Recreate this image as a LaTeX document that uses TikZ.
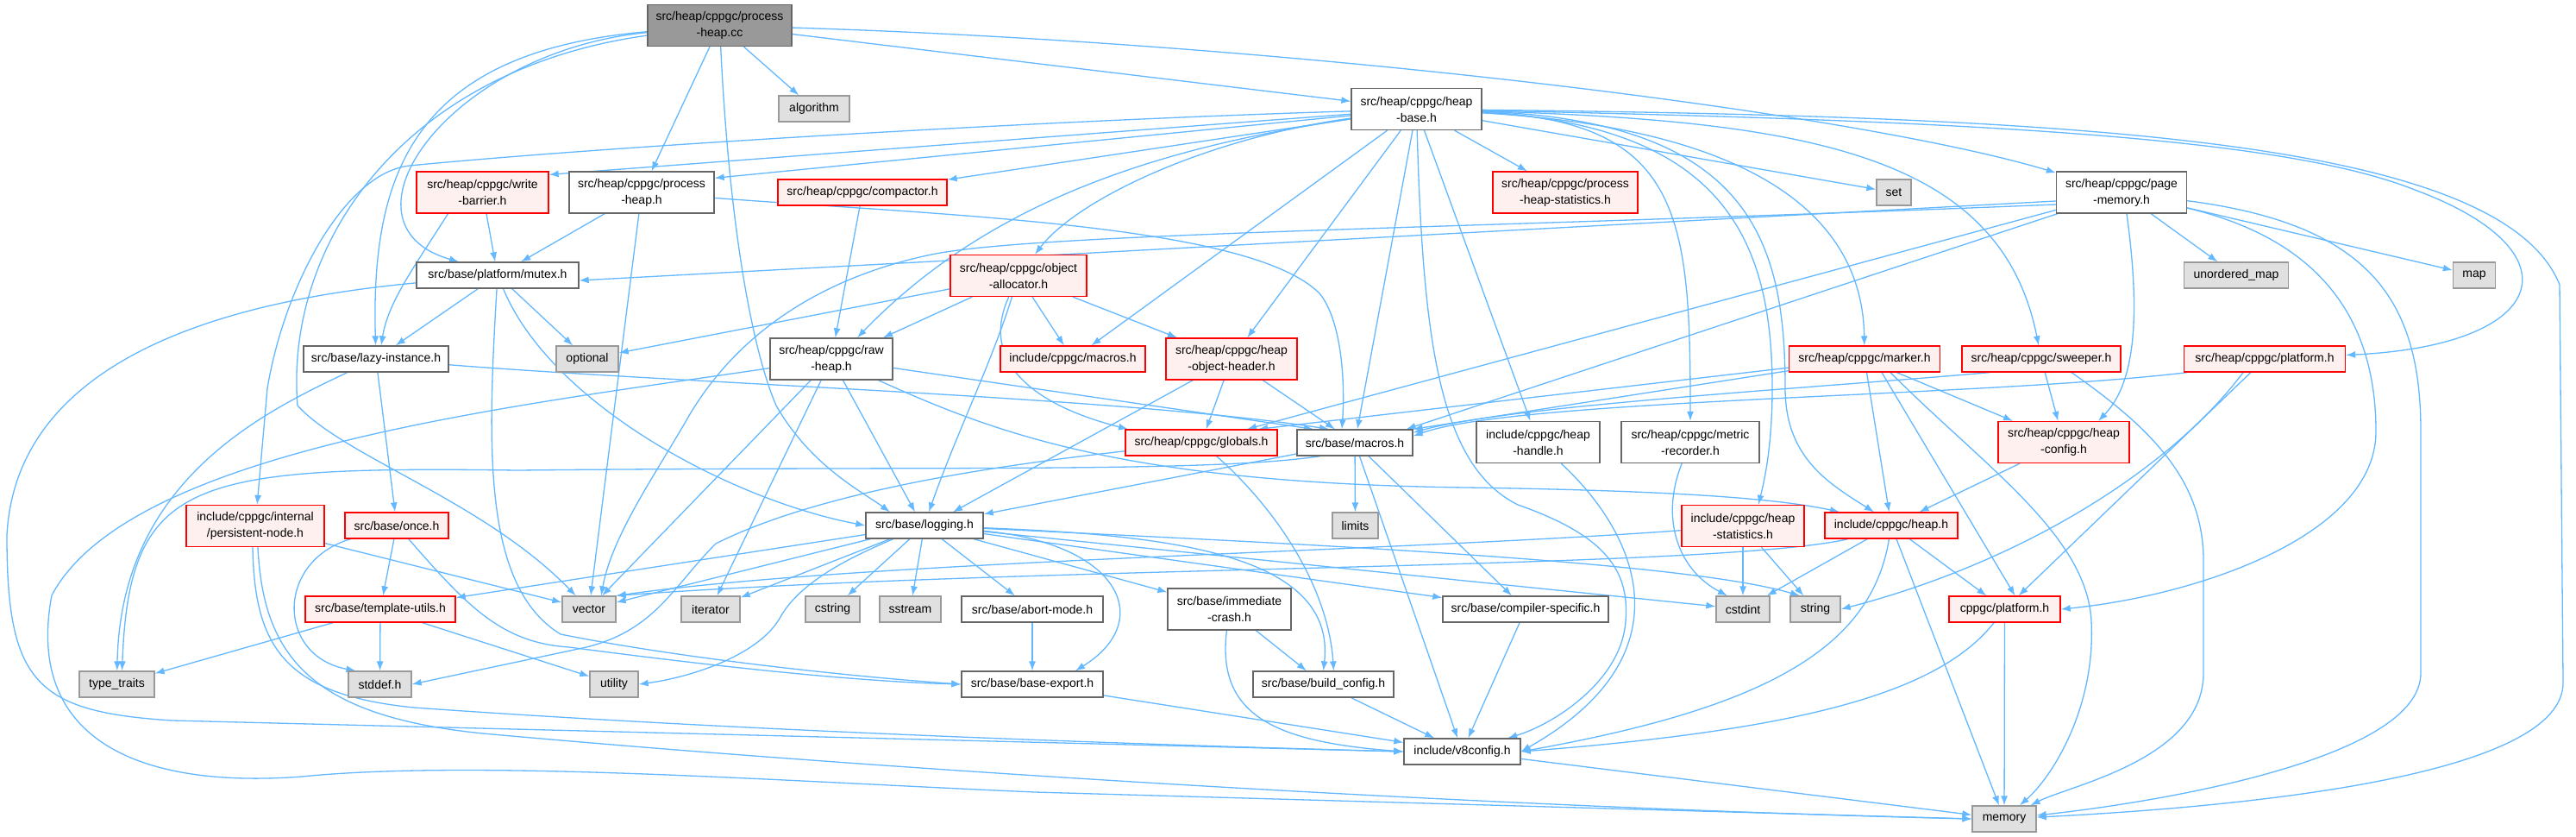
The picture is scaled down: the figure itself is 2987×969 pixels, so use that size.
\documentclass[tikz,border=0pt]{standalone}
\usepackage{fontspec}
\setmainfont{Liberation Sans}
\usetikzlibrary{arrows.meta}
\pgfdeclarelayer{edges}
\pgfsetlayers{edges,main}
\definecolor{EdgeBlue}{HTML}{63B8FF}
\definecolor{FrameGray}{HTML}{666666}
\definecolor{RootFill}{HTML}{999999}
\definecolor{TruncRed}{HTML}{FF0000}
\definecolor{TruncFill}{HTML}{FFF0F0}
\definecolor{SysFill}{HTML}{E0E0E0}
\definecolor{SysFrame}{HTML}{999999}
\begin{document}
\begin{tikzpicture}[
  x=1pt, y=-1pt,
  font=\fontsize{14}{19}\selectfont,
  filebox/.style={draw=#1, line width=1.3pt, align=center, inner sep=0pt, minimum height=30pt},
  root/.style={filebox=FrameGray, fill=RootFill, minimum width=#1},
  hdr/.style={filebox=FrameGray, fill=white, minimum width=#1},
  trunc/.style={filebox=TruncRed, fill=TruncFill, minimum width=#1},
  sys/.style={filebox=SysFrame, fill=SysFill, minimum width=#1},
  twoline/.style={minimum height=48pt},
  dep/.style={-{Latex[length=11pt,width=8pt]}, line width=1.3pt, draw=EdgeBlue}
]
\useasboundingbox (0,0) rectangle (2987,969);

\node[root=167pt, twoline] (phcc) at (834.5,29.5) {src/heap/cppgc/process\\-heap.cc};
\node[sys=82pt] (algorithm) at (944,126) {algorithm};
\node[hdr=151pt, twoline] (heapbase) at (1642.5,126.5) {src/heap/cppgc/heap\\-base.h};

\node[trunc=153pt, twoline] (writebarrier) at (559.5,223) {src/heap/cppgc/write\\-barrier.h};
\node[hdr=168pt, twoline] (processheaph) at (744,223) {src/heap/cppgc/process\\-heap.h};
\node[trunc=196pt] (compactor) at (1000,223) {src/heap/cppgc/compactor.h};
\node[trunc=168pt, twoline] (phstats) at (1815,223) {src/heap/cppgc/process\\-heap-statistics.h};
\node[sys=40pt] (set) at (2196,223) {set};
\node[hdr=151pt, twoline] (pagememory) at (2460,223) {src/heap/cppgc/page\\-memory.h};

\node[hdr=188pt] (mutex) at (577,319) {src/base/platform/mutex.h};
\node[trunc=158pt, twoline] (objalloc) at (1181,319.5) {src/heap/cppgc/object\\-allocator.h};
\node[sys=121pt] (unorderedmap) at (2593,319) {unordered\_map};
\node[sys=49pt] (map) at (2869,319) {map};

\node[hdr=168pt] (lazyinstance) at (436,416) {src/base/lazy-instance.h};
\node[sys=72pt] (optional) at (681,416) {optional};
\node[hdr=142pt, twoline] (rawheap) at (964,416) {src/heap/cppgc/raw\\-heap.h};
\node[trunc=168pt] (cppgcmacros) at (1244,416) {include/cppgc/macros.h};
\node[trunc=152pt, twoline] (hoh) at (1428,416) {src/heap/cppgc/heap\\-object-header.h};
\node[trunc=175pt] (marker) at (2162,416) {src/heap/cppgc/marker.h};
\node[trunc=184pt] (sweeper) at (2367,416) {src/heap/cppgc/sweeper.h};
\node[trunc=187pt] (srcplatform) at (2626,416) {src/heap/cppgc/platform.h};

\node[trunc=176pt] (globals) at (1393,513) {src/heap/cppgc/globals.h};
\node[hdr=134pt] (basemacros) at (1571,513) {src/base/macros.h};
\node[hdr=143pt, twoline] (heaphandle) at (1783.5,512.5) {include/cppgc/heap\\-handle.h};
\node[hdr=160pt, twoline] (metric) at (1960,512.5) {src/heap/cppgc/metric\\-recorder.h};
\node[trunc=152pt, twoline] (heapconfig) at (2393,512.5) {src/heap/cppgc/heap\\-config.h};

\node[trunc=160pt, twoline] (persistent) at (296,609.5) {include/cppgc/internal\\/persistent-node.h};
\node[trunc=120pt] (once) at (460,609) {src/base/once.h};
\node[hdr=136pt] (logging) at (1072,609) {src/base/logging.h};
\node[sys=53pt] (limits) at (1571.5,609) {limits};
\node[trunc=142pt, twoline] (heapstats) at (2021,609.5) {include/cppgc/heap\\-statistics.h};
\node[trunc=154pt] (cppgcheap) at (2193,609) {include/cppgc/heap.h};

\node[trunc=174pt] (templateutils) at (441,706) {src/base/template-utils.h};
\node[sys=62pt] (vector) at (683,706) {vector};
\node[sys=68pt] (iterator) at (824,706) {iterator};
\node[sys=63pt] (cstring) at (965.5,706) {cstring};
\node[sys=71pt] (sstream) at (1055.5,706) {sstream};
\node[hdr=164pt] (abortmode) at (1197,706) {src/base/abort-mode.h};
\node[hdr=143pt, twoline] (immcrash) at (1425.5,706) {src/base/immediate\\-crash.h};
\node[hdr=192pt] (compspec) at (1769,706) {src/base/compiler-specific.h};
\node[sys=62pt] (cstdint) at (2021,706) {cstdint};
\node[sys=58pt] (string) at (2105,706) {string};
\node[trunc=129pt] (cppgcplatform) at (2324.5,706) {cppgc/platform.h};

\node[sys=87pt] (typetraits) at (135.5,793) {type\_traits};
\node[sys=73pt] (stddef) at (440.5,793) {stddef.h};
\node[sys=56pt] (utility) at (712,793) {utility};
\node[hdr=164pt] (baseexport) at (1197,793) {src/base/base-export.h};
\node[hdr=163pt] (buildconfig) at (1534.5,793) {src/base/build\_config.h};
\node[hdr=135pt] (v8config) at (1695.5,871) {include/v8config.h};
\node[sys=74pt] (memory) at (2324,949) {memory};

\begin{pgfonlayer}{edges}
\fill[white] (0,0) rectangle (2987,969);

\draw[dep] (phcc) -- (algorithm);
\draw[dep] (phcc) -- (processheaph);
\draw[dep] (phcc) -- (heapbase);
\draw[dep] (phcc) .. controls (1500,50) and (2150,130) .. (pagememory);
\draw[dep] (phcc) .. controls (480,60) and (430,200) .. (lazyinstance);
\draw[dep] (phcc) .. controls (520,60) and (380,260) .. ([xshift=-45pt]mutex.north);
\draw[dep] (phcc) .. controls (470,80) and (330,280) .. (345,470) .. controls (400,530) and (560,580) .. (vector);
\draw[dep] (phcc) .. controls (845,250) and (870,400) .. (900,470) .. controls (940,540) and (1000,570) .. ([xshift=-40pt]logging.north);

\draw[dep] (heapbase) -- ([yshift=-4pt]writebarrier.north east);
\draw[dep] (heapbase) -- ([yshift=-8pt]processheaph.north east);
\draw[dep] (heapbase) -- (compactor);
\draw[dep] (heapbase) .. controls (1400,160) and (1250,230) .. (objalloc);
\draw[dep] (heapbase) .. controls (1350,170) and (1150,230) .. ([xshift=30pt]rawheap.north);
\draw[dep] (heapbase) -- (cppgcmacros);
\draw[dep] (heapbase) -- (hoh);
\draw[dep] (heapbase) -- (basemacros);
\draw[dep] (heapbase) -- (heaphandle);
\draw[dep] (heapbase) -- (phstats);
\draw[dep] (heapbase) -- (set);
\draw[dep] (heapbase) .. controls (1200,140) and (700,170) .. (475,192) .. controls (400,200) and (330,330) .. (310,450) -- (persistent);
\draw[dep] (heapbase) .. controls (1650,400) and (1670,540) .. (1760,585) .. controls (1860,620) and (1890,660) .. (1885,720) .. controls (1880,790) and (1800,840) .. (v8config);
\draw[dep] (heapbase) .. controls (1950,140) and (1960,250) .. (metric);
\draw[dep] (heapbase) .. controls (2000,145) and (2055,280) .. (2055,450) .. controls (2055,520) and (2045,560) .. ([xshift=18pt]heapstats.north);
\draw[dep] (heapbase) .. controls (2030,140) and (2070,280) .. (2070,450) .. controls (2070,530) and (2120,560) .. ([xshift=-20pt]cppgcheap.north);
\draw[dep] (heapbase) .. controls (2050,150) and (2160,260) .. (marker);
\draw[dep] (heapbase) .. controls (2100,140) and (2320,180) .. (sweeper);
\draw[dep] (heapbase) .. controls (2300,140) and (2650,160) .. (2800,220) .. controls (2990,290) and (2960,400) .. (srcplatform);
\draw[dep] (heapbase) .. controls (2400,135) and (2900,160) .. (2968,330) -- (2972,790) .. controls (2975,900) and (2600,935) .. (memory);

\draw[dep] (writebarrier) -- (mutex);
\draw[dep] ([xshift=-40pt]writebarrier.south) .. controls (480,310) and (450,350) .. ([xshift=6pt]lazyinstance.north);
\draw[dep] (processheaph) -- (mutex);
\draw[dep] (processheaph) -- (vector);
\draw[dep] (processheaph) .. controls (1100,250) and (1450,260) .. (1530,340) .. controls (1555,370) and (1560,440) .. ([xshift=-15pt]basemacros.north);
\draw[dep] (compactor) -- (rawheap);
\draw[dep] (objalloc) -- ([xshift=60pt]rawheap.north);
\draw[dep] (objalloc) -- (optional);
\draw[dep] (objalloc) -- (cppgcmacros);
\draw[dep] (objalloc) -- (hoh);
\draw[dep] (objalloc) .. controls (1150,420) and (1110,500) .. ([xshift=5pt]logging.north);
\draw[dep] (objalloc) .. controls (1135,420) and (1200,470) .. ([xshift=-85pt]globals.north);

\draw[dep] (mutex) -- (lazyinstance);
\draw[dep] (mutex) -- (optional);
\draw[dep] (mutex) .. controls (640,470) and (850,580) .. (logging.west);
\draw[dep] (mutex) .. controls (565,520) and (560,680) .. (650,735) .. controls (800,765) and (1000,785) .. (baseexport.west);
\draw[dep] (mutex) .. controls (300,345) and (20,400) .. (8,620) .. controls (8,790) and (40,825) .. (200,835) -- (v8config.west);
\draw[dep] (lazyinstance) .. controls (300,480) and (140,560) .. (typetraits);
\draw[dep] (lazyinstance) -- (once);
\draw[dep] (lazyinstance) .. controls (800,445) and (1300,460) .. ([xshift=-30pt]basemacros.north);

\draw[dep] (rawheap) -- (vector);
\draw[dep] (rawheap) -- (iterator);
\draw[dep] (rawheap) -- ([xshift=-11pt]logging.north);
\draw[dep] (rawheap) -- ([xshift=-48pt]basemacros.north);
\draw[dep] (rawheap) .. controls (1150,500) and (1300,560) .. (1700,565) .. controls (1900,568) and (2050,575) .. ([xshift=-60pt]cppgcheap.north);
\draw[dep] (rawheap) .. controls (600,470) and (150,520) .. (60,690) .. controls (30,850) and (150,915) .. (350,900) .. controls (550,880) and (900,905) .. (1200,918) -- (memory.west);

\draw[dep] (hoh) -- ([xshift=33pt]logging.north);
\draw[dep] (hoh) -- (globals);
\draw[dep] (hoh) -- (basemacros);
\draw[dep] (globals) .. controls (1150,540) and (950,570) .. (830,630) .. controls (780,680) and (760,730) .. (680,750) -- (stddef.east);
\draw[dep] (globals) .. controls (1480,590) and (1540,680) .. ([xshift=12pt]buildconfig.north);
\draw[dep] (basemacros) -- (limits);
\draw[dep] (basemacros) -- (compspec);
\draw[dep] (basemacros) -- (v8config);
\draw[dep] (basemacros) -- (logging);
\draw[dep] ([xshift=-40pt]basemacros.south) .. controls (1400,548) and (1100,540) .. (600,545) .. controls (220,540) and (150,555) .. ([xshift=6pt]typetraits.north);

\draw[dep] (heaphandle) .. controls (1900,620) and (1960,760) .. (v8config.east);
\draw[dep] (metric) .. controls (1925,600) and (1945,660) .. ([xshift=-18pt]cstdint.north);
\draw[dep] (heapconfig) -- (cppgcheap);
\draw[dep] (heapstats) -- (cstdint);
\draw[dep] (heapstats) -- (string);
\draw[dep] (heapstats) .. controls (1600,640) and (1000,650) .. (vector.north east);
\draw[dep] (cppgcheap) -- (cstdint);
\draw[dep] (cppgcheap) -- (cppgcplatform);
\draw[dep] (cppgcheap) -- (memory);
\draw[dep] ([xshift=-50pt]cppgcheap.south) .. controls (1990,660) and (1200,655) .. (vector.north east);
\draw[dep] (cppgcheap) .. controls (2170,750) and (2050,820) .. (v8config.east);
\draw[dep] (cppgcplatform) -- (memory);
\draw[dep] (cppgcplatform) .. controls (2250,800) and (2100,845) .. (v8config.east);

\draw[dep] (marker) -- ([xshift=66pt]globals.north);
\draw[dep] (marker) -- (basemacros.north east);
\draw[dep] (marker) -- (heapconfig);
\draw[dep] (marker) -- (cppgcheap);
\draw[dep] ([xshift=20pt]marker.south) -- ([xshift=12pt]cppgcplatform.north);
\draw[dep] ([xshift=30pt]marker.south) .. controls (2300,540) and (2420,620) .. (2425,720) .. controls (2430,820) and (2380,900) .. (memory);
\draw[dep] ([xshift=-60pt]sweeper.south) .. controls (2100,450) and (1750,470) .. ([yshift=-4pt]basemacros.north east);
\draw[dep] (sweeper) -- (heapconfig);
\draw[dep] ([xshift=35pt]sweeper.south) .. controls (2500,500) and (2555,560) .. (2555,650) -- (2555,780) .. controls (2555,880) and (2400,910) .. (memory);
\draw[dep] ([xshift=-90pt]srcplatform.south) .. controls (2300,460) and (1760,462) .. ([yshift=-8pt]basemacros.north east);
\draw[dep] (srcplatform) -- (cppgcplatform);
\draw[dep] ([xshift=-25pt]srcplatform.south) .. controls (2520,540) and (2350,650) .. (string.east);

\draw[dep] ([yshift=-10pt]pagememory.west) -- ([yshift=-6pt]mutex.east);
\draw[dep] ([yshift=-14pt]pagememory.west) .. controls (1700,265) and (1200,270) .. (1080,295) .. controls (960,320) and (860,380) .. (800,480) .. controls (760,550) and (710,620) .. ([xshift=14pt]vector.north);
\draw[dep] (pagememory) -- ([xshift=53pt]globals.north);
\draw[dep] (pagememory) -- ([xshift=-8pt]basemacros.north east);
\draw[dep] ([xshift=6pt]pagememory.south) .. controls (2480,350) and (2480,440) .. ([xshift=40pt]heapconfig.north);
\draw[dep] (pagememory) -- (unorderedmap);
\draw[dep] (pagememory) -- (map);
\draw[dep] (pagememory) .. controls (2750,260) and (2807,350) .. (2807,500) -- (2807,780) .. controls (2807,880) and (2500,930) .. (memory);
\draw[dep] (pagememory) .. controls (2700,280) and (2755,380) .. (2755,500) .. controls (2755,620) and (2550,690) .. (cppgcplatform.east);

\draw[dep] (once) -- (templateutils);
\draw[dep] (once) .. controls (320,650) and (320,760) .. ([xshift=-28pt]stddef.north);
\draw[dep] (once) .. controls (540,700) and (580,745) .. (660,750) .. controls (850,775) and (1000,790) .. (baseexport.west);
\draw[dep] (templateutils) -- (typetraits);
\draw[dep] (templateutils) -- (stddef);
\draw[dep] (templateutils) -- (utility);
\draw[dep] (logging) -- (templateutils);
\draw[dep] (logging) -- (vector);
\draw[dep] (logging) -- (iterator);
\draw[dep] (logging) -- (cstring);
\draw[dep] (logging) -- (sstream);
\draw[dep] (logging) -- (abortmode);
\draw[dep] (logging) -- (immcrash);
\draw[dep] (logging) -- (compspec);
\draw[dep] (logging) -- (cstdint);
\draw[dep] (logging) .. controls (1500,630) and (1950,650) .. ([xshift=-18pt]string.north);
\draw[dep] (logging) .. controls (1350,620) and (1550,640) .. (buildconfig.north);
\draw[dep] (logging) .. controls (1300,630) and (1340,720) .. ([xshift=50pt]baseexport.north);
\draw[dep] (logging) .. controls (1000,640) and (930,670) .. (905,715) .. controls (880,760) and (800,785) .. (utility.east);
\draw[dep] (abortmode) -- (baseexport);
\draw[dep] (immcrash) -- (buildconfig);
\draw[dep] (immcrash) .. controls (1410,830) and (1480,860) .. (v8config.west);
\draw[dep] (buildconfig) -- (v8config);
\draw[dep] (baseexport) -- (v8config);
\draw[dep] (compspec) -- (v8config);
\draw[dep] (v8config) -- (memory);
\draw[dep] (persistent) -- (vector);
\draw[dep] ([xshift=-3pt]persistent.south) .. controls (295,750) and (330,805) .. (480,820) .. controls (900,850) and (1400,865) .. (v8config.west);
\draw[dep] ([xshift=3pt]persistent.south) .. controls (305,760) and (360,830) .. (560,850) .. controls (1000,890) and (1700,935) .. (memory.west);
\end{pgfonlayer}
\end{tikzpicture}
\end{document}
